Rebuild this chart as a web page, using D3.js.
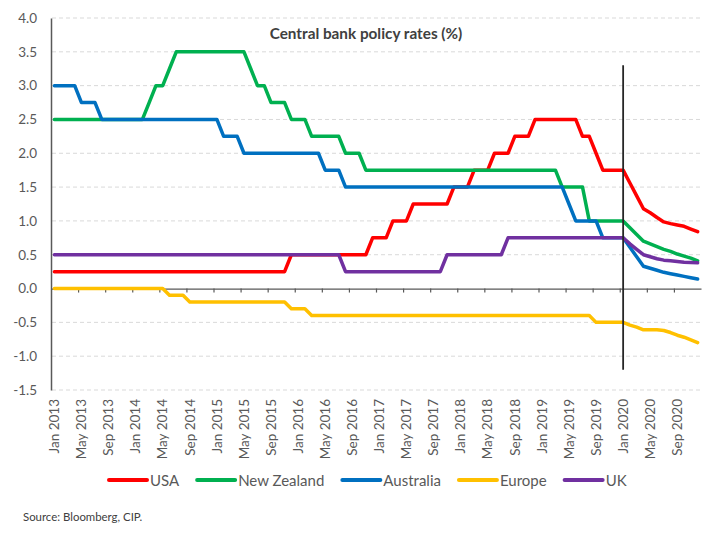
<!DOCTYPE html>
<html><head><meta charset="utf-8">
<script src="https://cdn.jsdelivr.net/npm/d3@7"></script>
<style>
body{margin:0;background:#fff}
svg{display:block}
text{font-family: Lato, "Open Sans", "Liberation Sans", sans-serif}
</style>
</head><body>
<svg id="chart" width="710" height="543"></svg>
<script>
// ---------- DATA ----------
const monthNames = ["Jan","Feb","Mar","Apr","May","Jun","Jul","Aug","Sep","Oct","Nov","Dec"];
const years = [2013,2014,2015,2016,2017,2018,2019,2020];
const categories = years.flatMap(yr => monthNames.map(m => m + " " + yr));

const tickLabels = ["Jan 2013","May 2013","Sep 2013","Jan 2014","May 2014","Sep 2014",
  "Jan 2015","May 2015","Sep 2015","Jan 2016","May 2016","Sep 2016",
  "Jan 2017","May 2017","Sep 2017","Jan 2018","May 2018","Sep 2018",
  "Jan 2019","May 2019","Sep 2019","Jan 2020","May 2020","Sep 2020"];

const yTicks = [-1.5,-1.0,-0.5,0.0,0.5,1.0,1.5,2.0,2.5,3.0,3.5,4.0];

const usa = [
 0.25,0.25,0.25,0.25,0.25,0.25,0.25,0.25,0.25,0.25,0.25,0.25,
 0.25,0.25,0.25,0.25,0.25,0.25,0.25,0.25,0.25,0.25,0.25,0.25,
 0.25,0.25,0.25,0.25,0.25,0.25,0.25,0.25,0.25,0.25,0.25,0.5,
 0.5,0.5,0.5,0.5,0.5,0.5,0.5,0.5,0.5,0.5,0.5,0.75,
 0.75,0.75,1.0,1.0,1.0,1.25,1.25,1.25,1.25,1.25,1.25,1.5,
 1.5,1.5,1.75,1.75,1.75,2.0,2.0,2.0,2.25,2.25,2.25,2.5,
 2.5,2.5,2.5,2.5,2.5,2.5,2.25,2.25,2.0,1.75,1.75,1.75,
 1.75,1.56,1.37,1.18,1.12,1.05,0.985,0.96,0.94,0.92,0.88,0.84];

const newZealand = [
 2.5,2.5,2.5,2.5,2.5,2.5,2.5,2.5,2.5,2.5,2.5,2.5,
 2.5,2.5,2.75,3.0,3.0,3.25,3.5,3.5,3.5,3.5,3.5,3.5,
 3.5,3.5,3.5,3.5,3.5,3.25,3.0,3.0,2.75,2.75,2.75,2.5,
 2.5,2.5,2.25,2.25,2.25,2.25,2.25,2.0,2.0,2.0,1.75,1.75,
 1.75,1.75,1.75,1.75,1.75,1.75,1.75,1.75,1.75,1.75,1.75,1.75,
 1.75,1.75,1.75,1.75,1.75,1.75,1.75,1.75,1.75,1.75,1.75,1.75,
 1.75,1.75,1.75,1.5,1.5,1.5,1.5,1.0,1.0,1.0,1.0,1.0,
 1.0,0.90,0.80,0.70,0.66,0.62,0.58,0.55,0.51,0.48,0.45,0.41];

const australia = [
 3.0,3.0,3.0,3.0,2.75,2.75,2.75,2.5,2.5,2.5,2.5,2.5,
 2.5,2.5,2.5,2.5,2.5,2.5,2.5,2.5,2.5,2.5,2.5,2.5,
 2.5,2.25,2.25,2.25,2.0,2.0,2.0,2.0,2.0,2.0,2.0,2.0,
 2.0,2.0,2.0,2.0,1.75,1.75,1.75,1.5,1.5,1.5,1.5,1.5,
 1.5,1.5,1.5,1.5,1.5,1.5,1.5,1.5,1.5,1.5,1.5,1.5,
 1.5,1.5,1.5,1.5,1.5,1.5,1.5,1.5,1.5,1.5,1.5,1.5,
 1.5,1.5,1.5,1.5,1.25,1.0,1.0,1.0,1.0,0.75,0.75,0.75,
 0.75,0.61,0.47,0.33,0.30,0.27,0.24,0.22,0.20,0.18,0.16,0.14];

const europe = [
 0,0,0,0,0,0,0,0,0,0,0,0,
 0,0,0,0,0,-0.1,-0.1,-0.1,-0.2,-0.2,-0.2,-0.2,
 -0.2,-0.2,-0.2,-0.2,-0.2,-0.2,-0.2,-0.2,-0.2,-0.2,-0.2,-0.3,
 -0.3,-0.3,-0.4,-0.4,-0.4,-0.4,-0.4,-0.4,-0.4,-0.4,-0.4,-0.4,
 -0.4,-0.4,-0.4,-0.4,-0.4,-0.4,-0.4,-0.4,-0.4,-0.4,-0.4,-0.4,
 -0.4,-0.4,-0.4,-0.4,-0.4,-0.4,-0.4,-0.4,-0.4,-0.4,-0.4,-0.4,
 -0.4,-0.4,-0.4,-0.4,-0.4,-0.4,-0.4,-0.4,-0.5,-0.5,-0.5,-0.5,
 -0.5,-0.54,-0.57,-0.61,-0.61,-0.61,-0.62,-0.65,-0.69,-0.72,-0.76,-0.80];

const uk = [
 0.5,0.5,0.5,0.5,0.5,0.5,0.5,0.5,0.5,0.5,0.5,0.5,
 0.5,0.5,0.5,0.5,0.5,0.5,0.5,0.5,0.5,0.5,0.5,0.5,
 0.5,0.5,0.5,0.5,0.5,0.5,0.5,0.5,0.5,0.5,0.5,0.5,
 0.5,0.5,0.5,0.5,0.5,0.5,0.5,0.25,0.25,0.25,0.25,0.25,
 0.25,0.25,0.25,0.25,0.25,0.25,0.25,0.25,0.25,0.25,0.5,0.5,
 0.5,0.5,0.5,0.5,0.5,0.5,0.5,0.75,0.75,0.75,0.75,0.75,
 0.75,0.75,0.75,0.75,0.75,0.75,0.75,0.75,0.75,0.75,0.75,0.75,
 0.75,0.66,0.58,0.50,0.47,0.44,0.42,0.41,0.40,0.39,0.385,0.38];

const seriesNames = ["USA","New Zealand","Australia","Europe","UK"];
const seriesValues = [usa, newZealand, australia, europe, uk];
const seriesColors = ["#FF0000","#00B050","#0070C0","#FFC000","#7030A0"];

const markerMonth = "Jan 2020";
const markerRange = [3.3, -1.2];

const title = "Central bank policy rates (%)";
const source = "Source: Bloomberg, CIP.";

// ---------- CHART ----------
const svg = d3.select("#chart");
const L = 51, R = 701, T = 18, B = 390;

const x = d3.scaleBand().domain(categories).range([L, R]);
const xc = c => x(c) + x.bandwidth() / 2;
const y = d3.scaleLinear().domain([-1.5, 4]).range([B, T]);
const xb = d3.scaleLinear().domain([0, categories.length]).range([L, R]);

// gridlines
svg.append("g").selectAll("line")
  .data(yTicks.filter(d => d !== 0))
  .join("line")
  .attr("x1", L + 1).attr("x2", R)
  .attr("y1", d => y(d)).attr("y2", d => y(d))
  .attr("stroke", "#D9D9D9").attr("stroke-width", 1)
  .attr("stroke-dasharray", "4,3");

// y axis
const yAxis = svg.append("g").attr("transform", `translate(${L},0)`)
  .call(d3.axisLeft(y).tickValues(yTicks).tickSize(0).tickPadding(14)
    .tickFormat(d => d.toFixed(1)));
yAxis.select(".domain").attr("stroke", "#595959").attr("stroke-width", 1.5);
yAxis.selectAll("text").attr("fill", "#595959").style("font-size", "13.5px")
  .style("font-family", "Lato, 'Open Sans', sans-serif");

// x axis line at zero with ticks
const xAxis = svg.append("g").attr("transform", `translate(0,${y(0)})`)
  .call(d3.axisBottom(xb).tickValues(d3.range(4, 93, 4)).tickSize(4).tickSizeOuter(0).tickFormat(""));
xAxis.select(".domain").attr("stroke", "#595959").attr("stroke-width", 1.2);
xAxis.selectAll(".tick line").attr("stroke", "#595959").attr("stroke-width", 1.2);

// x labels at bottom
const xLab = svg.append("g").attr("transform", `translate(0,${B})`)
  .call(d3.axisBottom(x).tickValues(tickLabels).tickSize(0).tickPadding(0));
xLab.select(".domain").remove();
xLab.selectAll("text")
  .attr("transform", "rotate(-90)")
  .attr("text-anchor", "end")
  .attr("x", -9).attr("y", 0).attr("dy", "0.35em")
  .attr("fill", "#595959").style("font-size", "13.5px")
  .style("font-family", "Lato, 'Open Sans', sans-serif");

// series lines
const line = d3.line().x((d, i) => xc(categories[i])).y(d => y(d));
svg.append("g").selectAll("path")
  .data(seriesValues)
  .join("path")
  .attr("d", d => line(d))
  .attr("fill", "none")
  .attr("stroke", (d, i) => seriesColors[i])
  .attr("stroke-width", 3.5)
  .attr("stroke-linejoin", "round")
  .attr("stroke-linecap", "round");

// vertical marker
svg.append("line")
  .attr("x1", xc(markerMonth)).attr("x2", xc(markerMonth))
  .attr("y1", y(markerRange[0])).attr("y2", y(markerRange[1]))
  .attr("stroke", "#262626").attr("stroke-width", 1.8);

// title
svg.append("text").attr("x", 366).attr("y", 38.5).attr("text-anchor", "middle")
  .attr("fill", "#404040").style("font-size", "15.3px").style("font-weight", "bold")
  .text(title);

// legend
const leg = svg.append("g").attr("transform", "translate(109,480)");
let lx = 0;
seriesNames.forEach((name, i) => {
  const g = leg.append("g").attr("transform", `translate(${lx},0)`);
  g.append("line").attr("x1", 0).attr("x2", 38).attr("y1", 0).attr("y2", 0)
    .attr("stroke", seriesColors[i]).attr("stroke-width", 4).attr("stroke-linecap", "round");
  const t = g.append("text").attr("x", 41).attr("y", 5.5)
    .attr("fill", "#595959").style("font-size", "15px").text(name);
  lx += 41 + t.node().getComputedTextLength() + 18;
});

// source
svg.append("text").attr("x", 23).attr("y", 521).attr("fill", "#404040")
  .style("font-size", "11.4px").text(source);
</script>
</body></html>
